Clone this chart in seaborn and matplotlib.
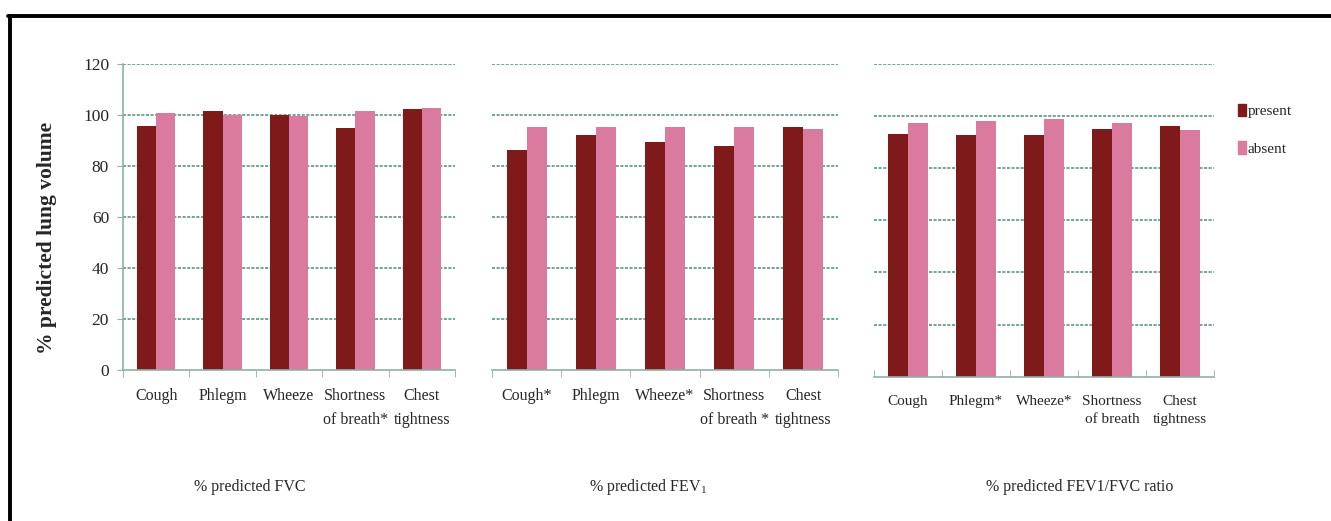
import numpy as np
import pandas as pd
import matplotlib
matplotlib.use("Agg")
import matplotlib.pyplot as plt
import seaborn as sns
from matplotlib.lines import Line2D
from matplotlib.ticker import FixedLocator


# Data

status = ["present", "absent"]

labels_fvc = ["Cough", "Phlegm", "Wheeze", "Shortness\nof breath*", "Chest\ntightness"]
fvc_present = [95.7, 101.7, 100.0, 95.0, 102.4]
fvc_absent = [100.9, 100.0, 99.6, 101.6, 102.9]

labels_fev1 = ["Cough*", "Phlegm", "Wheeze*", "Shortness\nof breath *", "Chest\ntightness"]
fev1_present = [86.3, 92.2, 89.5, 87.8, 95.3]
fev1_absent = [95.3, 95.3, 95.3, 95.3, 94.4]

labels_ratio = ["Cough", "Phlegm*", "Wheeze*", "Shortness\nof breath", "Chest\ntightness"]
ratio_present = [93.2, 92.8, 92.8, 95.0, 96.2]
ratio_absent = [97.3, 98.2, 98.8, 97.3, 94.7]

titles = ["% predicted FVC", "% predicted FEV$_{1}$", "% predicted FEV1/FVC ratio"]
y_ticks = [0, 20, 40, 60, 80, 100, 120]


sns.set_style("white")
plt.rcParams["font.family"] = ["Liberation Serif", "DejaVu Serif"]
plt.rcParams["mathtext.fontset"] = "custom"
plt.rcParams["mathtext.rm"] = "Liberation Serif"
plt.rcParams["mathtext.it"] = "Liberation Serif:italic"

palette = {"present": "#7e1a1a", "absent": "#da7a9e"}
grid_color = "#4f8a78"
axis_color = "#8fb0a6"


def make_frame(labels, present, absent):
    return pd.DataFrame({
        "symptom": labels * 2,
        "status": ["present"] * len(labels) + ["absent"] * len(labels),
        "value": present + absent,
    })


frames = [
    make_frame(labels_fvc, fvc_present, fvc_absent),
    make_frame(labels_fev1, fev1_present, fev1_absent),
    make_frame(labels_ratio, ratio_present, ratio_absent),
]

fig = plt.figure(figsize=(13.31, 5.21), dpi=100)

positions = [
    [123 / 1331, 1 - 370 / 521, 332 / 1331, 306 / 521],
    [492 / 1331, 1 - 370 / 521, 346 / 1331, 306 / 521],
    [874 / 1331, 1 - 376.7 / 521, 340 / 1331, 312.7 / 521],
]

title_x = [250, 648, 1080]

for i, (df, pos) in enumerate(zip(frames, positions)):

    ax = fig.add_axes(pos)

    sns.barplot(
        data=df,
        x="symptom",
        y="value",
        hue="status",
        palette=palette,
        width=0.58,
        saturation=1,
        linewidth=0,
        legend=False,
        ax=ax
    )

    ax.set_ylim(0, 120)
    ax.set_xlim(-0.5, 4.5)
    ax.set_yticks(y_ticks)
    ax.set_xlabel("")
    ax.set_ylabel("")

    for y in y_ticks[1:]:
        ax.axhline(y, color=grid_color, lw=1.1, ls=(0, (2, 1)), zorder=0)

    for side in ["top", "right"]:
        ax.spines[side].set_visible(False)

    ax.spines["bottom"].set_color(axis_color)
    ax.spines["bottom"].set_linewidth(1.2)

    # tick marks between categories, labels centred under each group
    ax.xaxis.set_minor_locator(FixedLocator(np.arange(-0.5, 5.0, 1.0)))
    ax.tick_params(axis="x", which="major", length=0,
                   pad=13,
                   labelsize=11.5 if i < 2 else 11)
    ax.tick_params(axis="x", which="minor", length=5, color=axis_color,
                   direction="out" if i < 2 else "in", bottom=True)
    for t in ax.get_xticklabels():
        t.set_linespacing(1.65 if i < 2 else 1.55)
        t.set_verticalalignment("top")

    if i == 0:
        ax.spines["left"].set_color(axis_color)
        ax.spines["left"].set_linewidth(1.2)
        ax.tick_params(axis="y", length=4, color=axis_color,
                       labelsize=12.5, pad=6, left=True)
        ax.set_ylabel(
            "% predicted lung volume",
            fontsize=15.5,
            fontweight="bold"
        )
        ax.yaxis.set_label_coords(-0.20, 0.43)
    else:
        ax.spines["left"].set_visible(False)
        ax.tick_params(axis="y", left=False, labelleft=False)

    fig.text(
        title_x[i] / 1331,
        1 - 487 / 521,
        titles[i],
        ha="center",
        va="center",
        fontsize=11.5
    )


handles = [
    plt.Rectangle((0, 0), 1, 1, color=palette["present"]),
    plt.Rectangle((0, 0), 1, 1, color=palette["absent"]),
]

fig.legend(
    handles,
    status,
    loc="upper left",
    bbox_to_anchor=(1224 / 1331, 1 - 90 / 521),
    frameon=False,
    handlelength=0.55,
    handleheight=0.9,
    handletextpad=0.1,
    labelspacing=1.5,
    fontsize=11
)

# frame lines of the original figure
fig.add_artist(Line2D([8 / 1331, 1], [1 - 16 / 521, 1 - 16 / 521],
                      color="black", lw=2.8, transform=fig.transFigure))
fig.add_artist(Line2D([10 / 1331, 10 / 1331], [0, 1 - 16 / 521],
                      color="black", lw=2.8, transform=fig.transFigure))

plt.savefig("out.png", dpi=100)

plt.close()
